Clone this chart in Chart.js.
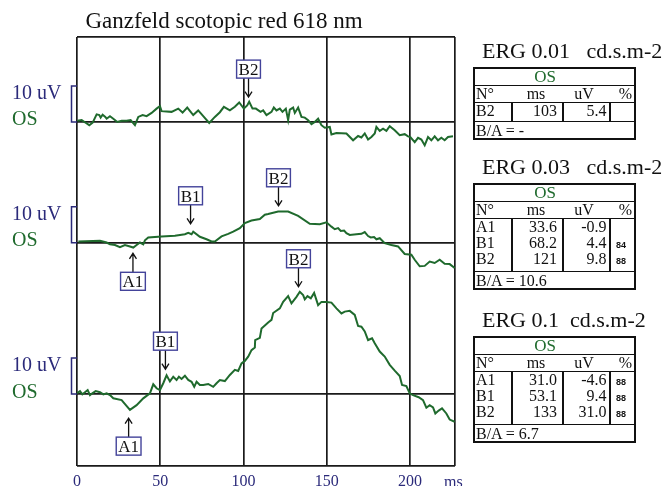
<!DOCTYPE html>
<html>
<head>
<meta charset="utf-8">
<script src="https://cdn.jsdelivr.net/npm/chart.js@4.4.0/dist/chart.umd.min.js"></script>
<style>
  body { margin: 0; background: #fff; }
  #wrap { position: relative; width: 665px; height: 486px; overflow: hidden; font-family: 'Liberation Serif', 'Times New Roman', serif; }
  #wrap canvas { position: absolute; left: 0; top: 0; }
  .t { position: absolute; white-space: pre; color: #111; }
  .ln { position: absolute; background: #111; }
</style>
</head>
<body>
<div id="wrap"><canvas id="erg" width="665" height="486"></canvas></div>
<script>
// ---- data ----
var xTicks = [0, 50, 100, 150, 200];

// trace 1 : ERG 0.01
var ms1 = [0.2, 2.8, 5.4, 7.4, 9.4, 11.8, 13.4, 14.2, 15.4, 17.0, 17.8, 19.8, 21.8, 24.2, 26.8, 29.8, 32.2, 34.8, 36.8, 39.4,
  41.8, 44.8, 47.8, 49.8, 50.8, 56.8, 60.8, 63.4, 66.2, 69.8, 72.8, 76.2, 79.4, 82.8, 85.8, 88.2, 91.8, 94.8, 97.4, 100.2,
  102.2, 103.4, 105.4, 107.4, 110.2, 111.8, 113.8, 116.8, 118.2, 119.8, 121.8, 123.4, 125.4, 126.8, 127.8, 129.8, 130.8, 132.8, 134.8, 136.8,
  138.8, 140.8, 142.8, 144.8, 146.8, 148.8, 151.8, 152.8, 155.8, 161.8, 165.8, 168.8, 170.8, 172.8, 174.8, 176.8, 178.8, 179.8, 181.8, 183.8,
  185.8, 187.8, 190.8, 193.8, 196.8, 198.8, 200.2, 202.8, 204.8, 206.8, 208.8, 210.8, 212.8, 214.8, 216.8, 218.8, 220.8, 222.8, 225.8];
var uv1 = [0.3, 0.5, -0.3, -0.9, -0.2, 2.1, 1.9, 1.2, 2.0, 1.4, 0.9, 1.6, 0.9, 0.0, 0.3, 0.3, 0.5, -0.9, 1.4, 1.9,
  1.6, 2.5, 3.7, 4.4, 3.0, 2.8, 3.7, 2.6, 4.0, 1.9, 3.2, 1.4, -0.3, 1.4, 2.7, 4.2, 3.2, 4.2, 5.4, 3.7,
  4.6, 5.6, 3.7, 3.7, 2.8, 3.2, 1.9, 2.8, 4.0, 3.2, 3.7, 2.8, 3.7, 0.5, 3.4, 4.0, 2.5, 4.0, 1.4, 1.2,
  0.5, -0.6, 0.0, 0.9, -0.9, -1.6, -1.4, -3.5, -3.1, -3.2, -5.1, -3.9, -4.3, -3.2, -4.9, -4.2, -3.2, -1.4, -2.5, -1.9,
  -2.5, -1.2, -2.3, -3.7, -3.4, -4.0, -4.2, -5.6, -4.4, -4.9, -6.5, -4.2, -5.1, -4.0, -5.1, -4.4, -5.1, -4.2, -4.0];

// trace 2 : ERG 0.03
var ms2 = [0.8, 13.8, 17.8, 19.8, 22.8, 25.8, 28.8, 31.8, 33.8, 35.8, 37.8, 39.8, 40.8, 42.8, 50.8, 58.8, 64.8, 66.8, 68.8, 69.8,
  73.8, 77.8, 80.8, 82.8, 86.8, 90.8, 93.8, 97.8, 100.8, 104.8, 109.8, 112.8, 114.8, 120.8, 126.8, 132.8, 139.8, 145.8, 149.8, 152.8,
  154.8, 156.8, 158.4, 160.4, 161.8, 163.8, 167.8, 170.8, 172.8, 174.8, 176.4, 178.4, 179.8, 181.8, 184.8, 188.8, 192.8, 196.8, 200.8, 202.8,
  205.8, 208.8, 211.8, 214.8, 217.8, 220.8, 223.8, 226.8];
var uv2 = [0.4, 0.6, 0.1, -0.4, -0.6, -1.2, -0.6, -1.0, -1.3, -0.6, 0.1, -0.4, 0.7, 1.5, 1.8, 2.0, 2.4, 2.8, 2.4, 3.1,
  1.7, 1.0, 0.4, 0.4, 1.8, 2.5, 3.1, 4.1, 5.5, 6.2, 6.6, 7.8, 8.0, 8.7, 8.7, 7.5, 5.3, 5.2, 5.7, 4.5,
  3.8, 4.1, 3.3, 3.4, 2.7, 2.2, 2.4, 2.5, 3.0, 1.9, 1.5, 1.6, 1.0, 1.3, -0.1, -0.6, -1.0, -3.1, -3.3, -4.7,
  -6.5, -6.4, -5.2, -5.6, -4.7, -5.8, -5.9, -7.0];

// trace 3 : ERG 0.1
var ms3 = [0.0, 1.8, 3.2, 4.8, 6.4, 7.8, 9.2, 11.2, 13.8, 15.8, 17.8, 19.8, 21.8, 26.8, 31.8, 35.8, 39.8, 43.8, 45.8, 47.8,
  49.8, 51.8, 53.8, 55.8, 57.8, 59.8, 61.2, 62.8, 64.8, 66.8, 68.8, 70.4, 71.8, 73.8, 75.8, 78.8, 81.8, 83.8, 85.8, 88.8,
  91.8, 94.8, 96.8, 98.8, 100.8, 102.8, 104.8, 106.8, 107.0, 109.8, 110.8, 114.8, 116.8, 117.8, 121.8, 123.8, 126.8, 128.8, 131.8, 133.8,
  135.8, 136.8, 138.4, 140.4, 142.4, 144.8, 146.8, 149.8, 152.8, 155.8, 158.8, 160.8, 163.8, 166.8, 168.8, 170.8, 172.8, 174.8, 177.2, 178.8,
  181.8, 184.8, 187.8, 190.8, 193.8, 195.2, 197.8, 199.8, 201.8, 205.2, 207.8, 209.8, 211.8, 213.8, 215.2, 217.2, 219.2, 221.8, 223.8, 226.8];
var uv3 = [0.2, 0.8, -0.1, 0.5, 1.1, -0.3, 0.2, 0.8, 0.5, -0.1, 0.2, -0.3, -1.2, -1.7, -4.4, -3.1, -1.2, 0.2, 2.7, 1.6,
  1.1, 3.0, 5.2, 3.5, 4.8, 3.9, 4.8, 4.2, 5.1, 3.9, 3.4, 2.0, 3.4, 2.5, 2.5, 2.8, 2.0, 3.0, 3.9, 3.6,
  5.3, 6.7, 6.4, 8.5, 9.2, 10.4, 12.2, 12.9, 15.0, 15.6, 18.2, 19.9, 20.6, 22.5, 23.8, 25.6, 27.2, 25.2, 27.0, 28.4,
  27.5, 26.3, 27.2, 26.6, 28.1, 24.7, 25.6, 25.6, 25.4, 23.8, 22.4, 22.9, 23.1, 22.0, 18.9, 18.7, 17.4, 15.0, 15.5, 14.1,
  11.8, 10.4, 8.1, 6.5, 5.0, 2.5, 2.2, 0.2, -0.3, -0.9, -1.7, -3.8, -3.1, -3.7, -5.4, -4.6, -4.0, -5.4, -7.1, -7.7];

// peak tables
var tableTitles = ['ERG 0.01   cd.s.m-2', 'ERG 0.03   cd.s.m-2', 'ERG 0.1  cd.s.m-2'];
var peakNames = [['B2'], ['A1', 'B1', 'B2'], ['A1', 'B1', 'B2']];
var peakMs = [[103], [33.6, 68.2, 121], [31.0, 53.1, 133]];
var peakUv = [[5.4], [-0.9, 4.4, 9.8], [-4.6, 9.4, 31.0]];
var peakPct = [[''], ['', '84', '88'], ['88', '88', '88']];
var ratioBA = ['-', '10.6', '6.7'];
// level (uV from baseline) where each marker arrow points
var markerLevel = [[6.9], [-2.9, 5.3, 10.3], [-6.7, 6.9, 29.8]];

// ---- layout / style ----
var traceOffsets = [75.6, 42, 0];
var green = '#1f6a2d';
var navy = '#2b2a7a';
var gridColor = '#1a1a1a';
var serif = "'Liberation Serif', 'Times New Roman', serif";

var traces = [[ms1, uv1], [ms2, uv2], [ms3, uv3]];
var datasets = traces.map(function (tr, i) {
  return {
    data: tr[0].map(function (m, k) { return { x: m, y: tr[1][k] + traceOffsets[i] }; }),
    borderColor: green,
    borderWidth: 2,
    pointRadius: 0,
    tension: 0,
    fill: false
  };
});

function drawMarker(ctx, x, yTip, label, up) {
  var len = 19, boxH = 18;
  var d = up ? 1 : -1;
  ctx.save();
  ctx.strokeStyle = '#111';
  ctx.lineWidth = 1.3;
  ctx.beginPath();
  ctx.moveTo(x, yTip);
  ctx.lineTo(x, yTip + d * len);
  ctx.moveTo(x - 3.5, yTip + d * 5.5);
  ctx.lineTo(x, yTip);
  ctx.lineTo(x + 3.5, yTip + d * 5.5);
  ctx.stroke();
  ctx.font = '17px ' + serif;
  var w = ctx.measureText(label).width + 4;
  var top = up ? yTip + len : yTip - len - boxH;
  ctx.fillStyle = '#fff';
  ctx.fillRect(x - w / 2, top, w, boxH);
  ctx.strokeStyle = '#43439a';
  ctx.lineWidth = 1.4;
  ctx.strokeRect(x - w / 2, top, w, boxH);
  ctx.fillStyle = '#111';
  ctx.textAlign = 'center';
  ctx.textBaseline = 'alphabetic';
  ctx.fillText(label, x, top + 15);
  ctx.restore();
}

var decor = {
  id: 'decor',
  afterDraw: function (chart) {
    var ctx = chart.ctx, xs = chart.scales.x, ys = chart.scales.y;
    ctx.save();
    ctx.fillStyle = '#111';
    ctx.font = '23px ' + serif;
    ctx.textAlign = 'center';
    ctx.fillText('Ganzfeld scotopic red 618 nm', 224, 28);

    ctx.textAlign = 'left';
    ctx.font = '16px ' + serif;
    ctx.fillStyle = navy;
    ctx.fillText('ms', 444, 487);

    traceOffsets.forEach(function (off, i) {
      var b = ys.getPixelForValue(off);
      var t = ys.getPixelForValue(off + 10);
      ctx.font = '20px ' + serif;
      ctx.fillStyle = navy;
      ctx.fillText('10 uV', 12, b - 23);
      ctx.fillStyle = green;
      ctx.fillText('OS', 12, b + 3.5);
      ctx.strokeStyle = navy;
      ctx.lineWidth = 1.5;
      ctx.beginPath();
      ctx.moveTo(77, t);
      ctx.lineTo(71.5, t);
      ctx.lineTo(71.5, b);
      ctx.lineTo(77, b);
      ctx.stroke();

      peakNames[i].forEach(function (name, k) {
        drawMarker(ctx, xs.getPixelForValue(peakMs[i][k]), ys.getPixelForValue(off + markerLevel[i][k]), name, name.charAt(0) === 'A');
      });
    });
    ctx.restore();
  }
};

new Chart(document.getElementById('erg'), {
  type: 'line',
  data: { datasets: datasets },
  options: {
    responsive: false,
    animation: false,
    events: [],
    layout: { padding: { left: 77, top: 37, right: 210, bottom: 0 } },
    plugins: { legend: { display: false }, tooltip: { enabled: false } },
    scales: {
      x: {
        type: 'linear', min: 0, max: 227,
        afterBuildTicks: function (s) { s.ticks = xTicks.concat([227]).map(function (v) { return { value: v }; }); },
        afterFit: function (s) { s.height = 20; },
        grid: { color: gridColor, lineWidth: 1.7, drawTicks: false },
        border: { display: false },
        ticks: {
          color: navy, padding: 6, maxRotation: 0, autoSkip: false,
          font: { family: serif, size: 16 },
          callback: function (v) { return xTicks.indexOf(v) >= 0 ? String(v) : ''; }
        }
      },
      y: {
        type: 'linear', min: -20, max: 99.2,
        afterBuildTicks: function (s) { s.ticks = [-20].concat(traceOffsets, [99.2]).map(function (v) { return { value: v }; }); },
        afterFit: function (s) { s.width = 0; },
        grid: { color: gridColor, lineWidth: 1.7, drawTicks: false },
        border: { display: false },
        ticks: { display: false }
      }
    }
  },
  plugins: [decor]
});

// ---- peak tables (HTML) ----
var wrap = document.getElementById('wrap');
var tableTops = [67, 183, 336];

function txt(s, x, base, size, opt) {
  opt = opt || {};
  var d = document.createElement('div');
  d.className = 't';
  d.textContent = s;
  d.style.fontSize = size + 'px';
  d.style.lineHeight = size + 'px';
  d.style.fontFamily = opt.family || serif;
  if (opt.bold) d.style.fontWeight = 'bold';
  d.style.top = (base - 0.8375 * size) + 'px';
  if (opt.color) d.style.color = opt.color;
  if (opt.align === 'right') { d.style.left = (x - 80) + 'px'; d.style.width = '80px'; d.style.textAlign = 'right'; }
  else if (opt.align === 'center') { d.style.left = (x - 40) + 'px'; d.style.width = '80px'; d.style.textAlign = 'center'; }
  else d.style.left = x + 'px';
  wrap.appendChild(d);
}
function line(x, y, w, h) {
  var d = document.createElement('div');
  d.className = 'ln';
  d.style.left = x + 'px'; d.style.top = y + 'px';
  d.style.width = w + 'px'; d.style.height = h + 'px';
  wrap.appendChild(d);
}
function fmt(v) { return Math.abs(v) >= 100 ? v.toFixed(0) : v.toFixed(1); }

tableTitles.forEach(function (title, i) {
  var top = tableTops[i], n = peakNames[i].length;
  var L = 473, R = 636;
  var osB = top + 18.5, hdB = osB + 17, dataB = hdB + 17 * n + 2, baB = dataB + 17.5;
  txt(title, 482, top - 9, 22);
  line(L, top, R - L, 2); line(L, baB - 1, R - L, 2);
  line(L, top, 2, baB - top); line(R - 2, top, 2, baB - top);
  line(L, osB - 0.75, R - L, 1.5); line(L, hdB - 0.75, R - L, 1.5); line(L, dataB - 0.75, R - L, 1.5);
  [512, 563, 610].forEach(function (cx) { line(cx - 0.75, hdB, 1.5, dataB - hdB); });
  txt('OS', 545, osB - 3.5, 17, { align: 'center', color: green });
  txt('N°', 476, hdB - 3.5, 16);
  txt('ms', 536, hdB - 3.5, 16, { align: 'center' });
  txt('uV', 584, hdB - 3.5, 16, { align: 'center' });
  txt('%', 632, hdB - 3.5, 16, { align: 'right' });
  peakNames[i].forEach(function (name, k) {
    var b = hdB + 14 + 16 * k;
    txt(name, 476, b, 16);
    txt(fmt(peakMs[i][k]), 557, b, 16, { align: 'right' });
    txt(fmt(peakUv[i][k]), 606.5, b, 16, { align: 'right' });
    if (peakPct[i][k]) txt(peakPct[i][k], 616, b, 9, { family: "'Liberation Sans', Arial, sans-serif", bold: true });
  });
  txt('B/A = ' + ratioBA[i], 476, baB - 3, 16);
});
</script>
</body>
</html>
